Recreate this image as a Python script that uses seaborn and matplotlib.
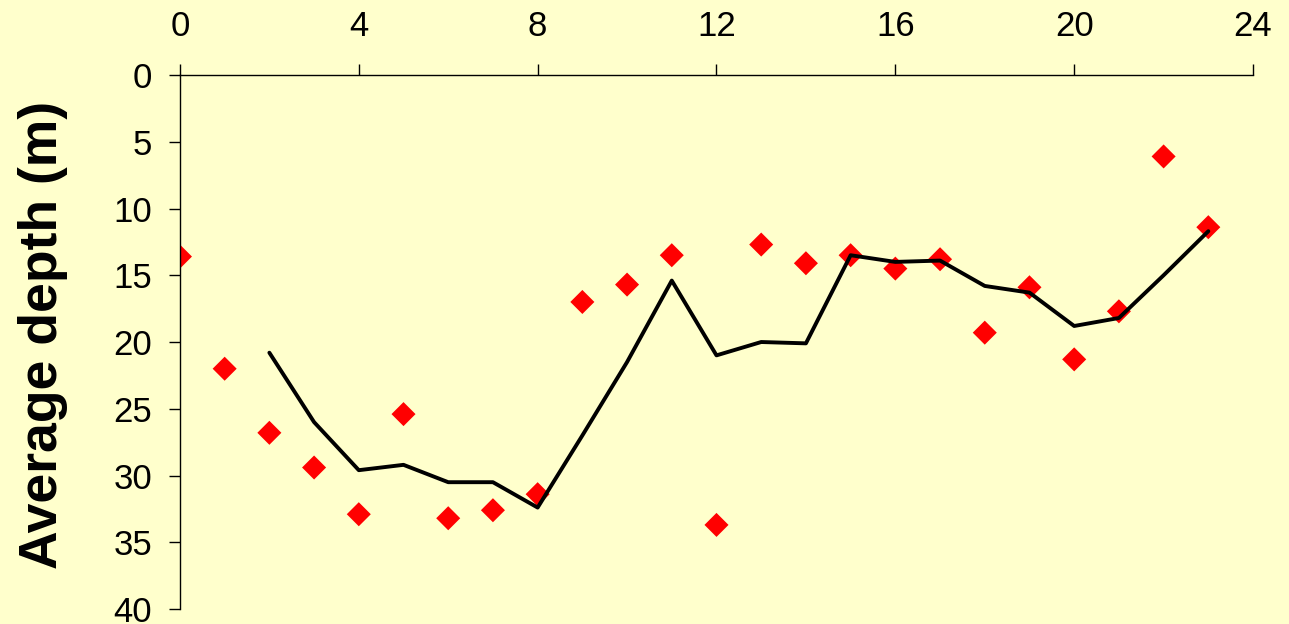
import matplotlib

matplotlib.use("Agg")
import matplotlib.pyplot as plt
import pandas as pd
import seaborn as sns

# observed average depth per hour (red diamonds)
hours = list(range(24))
depth = [13.6, 22.0, 26.8, 29.4, 32.9, 25.4, 33.2, 32.6, 31.4, 17.0, 15.7, 13.5,
         33.7, 12.7, 14.1, 13.5, 14.5, 13.8, 19.3, 15.9, 21.3, 17.7, 6.1, 11.4]

# trailing 3-point trend line (black), starting at hour 2
trend_hours = list(range(2, 24))
trend_depth = [20.8, 26.0, 29.6, 29.2, 30.5, 30.5, 32.4, 27.0, 21.5, 15.4, 21.0,
               20.0, 20.1, 13.5, 14.0, 13.9, 15.8, 16.3, 18.8, 18.2, 15.0, 11.7]

x_ticks = [0, 4, 8, 12, 16, 20, 24]
y_ticks = [0, 5, 10, 15, 20, 25, 30, 35, 40]

BG = "#FFFFCC"


def main() -> None:
    sns.set_style("white")
    plt.rcParams["font.family"] = ["Liberation Sans", "DejaVu Sans"]

    obs = pd.DataFrame({"hour": hours, "depth": depth})
    trend = pd.DataFrame({"hour": trend_hours, "depth": trend_depth})

    fig = plt.figure(figsize=(12.89, 6.24), dpi=100, facecolor=BG)
    ax = fig.add_axes([0.1396, 0.024, 0.8325, 0.8558], facecolor=BG)

    sns.lineplot(data=trend, x="hour", y="depth", color="black", linewidth=2.8,
                 ax=ax, zorder=3)
    sns.scatterplot(data=obs, x="hour", y="depth", marker="D", s=150, color="#FF0000",
                    edgecolor="none", ax=ax, zorder=2)

    ax.set_xlim(0, 24)
    ax.set_ylim(40, 0)
    ax.set_xticks(x_ticks)
    ax.set_yticks(y_ticks)
    ax.xaxis.tick_top()
    ax.xaxis.set_label_position("top")
    ax.set_xlabel("")
    ax.set_ylabel("Average depth (m)", fontsize=38.5, fontweight="bold", color="black")
    ax.yaxis.set_label_coords(-0.104, 0.513)

    for side in ["right", "bottom"]:
        ax.spines[side].set_visible(False)
    for side in ["left", "top"]:
        ax.spines[side].set_color("black")
        ax.spines[side].set_linewidth(1.0)

    ax.tick_params(axis="x", direction="out", length=8, width=1, pad=15,
                   labelsize=25, top=True, bottom=False, colors="black")
    ax.tick_params(axis="y", direction="out", length=8, width=1, pad=12,
                   labelsize=25, left=True, colors="black")
    for spine in ax.spines.values():
        spine.set_clip_on(False)

    fig.savefig("out.png", dpi=100, facecolor=BG)
    plt.close(fig)


if __name__ == "__main__":
    main()
